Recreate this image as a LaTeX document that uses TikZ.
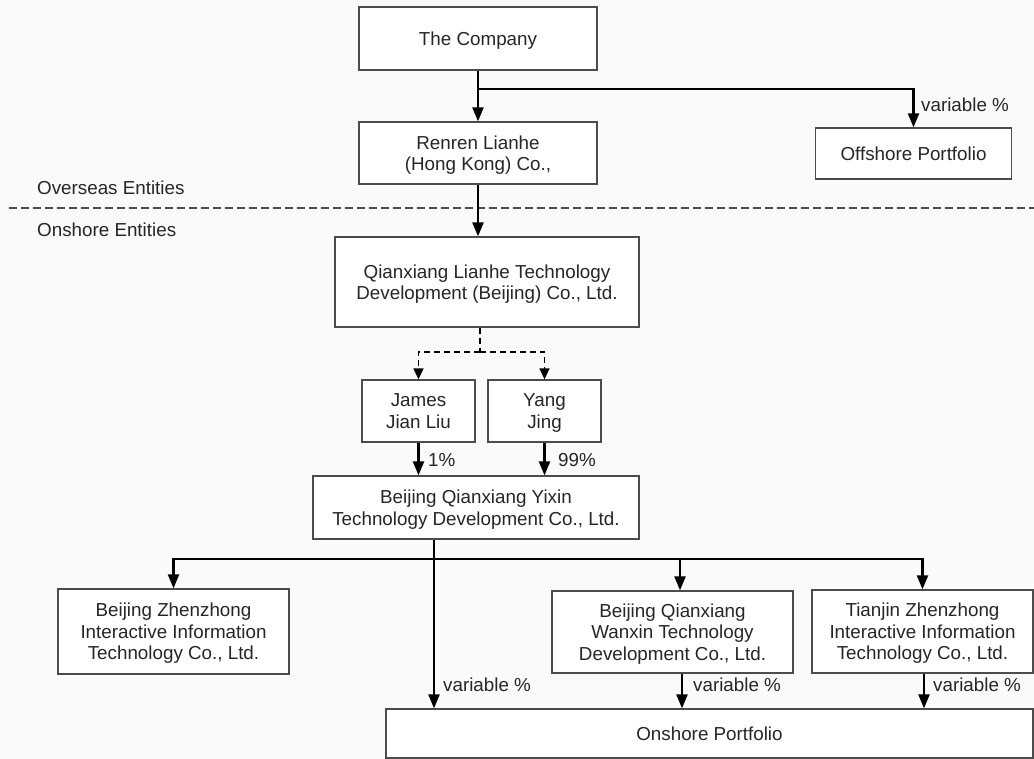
\documentclass[tikz,border=0pt]{standalone}
\usepackage{fontspec}
\setmainfont{Liberation Sans}
\usetikzlibrary{arrows.meta,positioning}

\begin{document}
\begin{tikzpicture}[x=1pt,y=-1pt,
  every node/.style={font=\fontsize{18.8}{21.6}\selectfont,text=black!85},
  box/.style={draw=black!70,line width=1.3pt,fill=white,align=center,inner sep=0pt,text depth=0pt},
  arr/.style={line width=2.2pt,-{Triangle[width=11pt,length=14pt]}},
  dsh/.style={line width=1.6pt,dash pattern=on 6pt off 4pt},
  lbl/.style={anchor=west,inner sep=0pt}]
\fill[black!2] (0,0) rectangle (1034,759);
\useasboundingbox (0,0) rectangle (1034,759);
\node[box,minimum width=238pt,minimum height=63pt] (comp) at (478,38.5) {The Company};
\node[box,minimum width=238pt,minimum height=62pt] (renren) at (478,153) {Renren Lianhe\\(Hong Kong) Co.,};
\node[box,minimum width=196pt,minimum height=51pt] (offsh) at (913.5,153.5) {Offshore Portfolio};
\node[box,minimum width=304pt,minimum height=90pt] (lianhe) at (487,282) {Qianxiang Lianhe Technology\\Development (Beijing) Co., Ltd.};
\node[box,minimum width=113pt,minimum height=62pt] (james) at (418.5,411) {James\\Jian Liu};
\node[box,minimum width=113pt,minimum height=62pt] (yang) at (544.5,411) {Yang\\Jing};
\node[box,minimum width=326pt,minimum height=63pt] (yixin) at (476,507.5) {Beijing Qianxiang Yixin\\Technology Development Co., Ltd.};
\node[box,minimum width=231pt,minimum height=85pt] (zhen) at (173.5,631.5) {Beijing Zhenzhong\\Interactive Information\\Technology Co., Ltd.};
\node[box,minimum width=241pt,minimum height=82pt] (wanxin) at (672.5,632) {Beijing Qianxiang\\Wanxin Technology\\Development Co., Ltd.};
\node[box,minimum width=221pt,minimum height=83pt] (tianjin) at (922.5,631.5) {Tianjin Zhenzhong\\Interactive Information\\Technology Co., Ltd.};
\node[box,minimum width=647pt,minimum height=49pt] (onshore) at (709.5,733.5) {Onshore Portfolio};
\node[lbl] (over) at (37,188) {Overseas Entities};
\node[lbl] (onsh) at (37,230) {Onshore Entities};
\coordinate (sep) at (9,208);
\coordinate (top) at (479,89);
\coordinate (share) at (480,352);
\coordinate (bus) at (434,559);
\coordinate (wx) at (680,559);
\draw[black!70,line width=1.3pt,dash pattern=on 8pt off 4pt] (sep) -- (1034,208);
\draw[arr] (comp) -- (renren);
\draw[arr] (top) -| (offsh.north);
\node[lbl] (v1) at (921,105) {variable \%};
\draw[arr] (renren.south) -- (renren.south |- lianhe.north);
\draw[dsh] (lianhe.south -| share) -- (share);
\draw[dsh,-{Triangle[width=10pt,length=11pt]}] (share) -| (james.north);
\draw[dsh,-{Triangle[width=10pt,length=11pt]}] (share) -| (yang.north);
\draw[arr] (james) -- (james |- yixin.north);
\node[lbl] (p1) at (428,460) {1\%};
\draw[arr] (yang) -- (yang |- yixin.north);
\node[lbl] (p99) at (558,460) {99\%};
\draw[arr] (yixin.south -| bus) -- (bus |- onshore.north);
\draw[arr] (bus) -| (zhen.north);
\draw[arr] (bus) -| (wx |- wanxin.north);
\draw[arr] (bus) -| (tianjin.north);
\node[lbl] (v2) at (443,685) {variable \%};
\draw[arr] ([xshift=9.5pt]wanxin.south) -- ([xshift=9.5pt]wanxin.south |- onshore.north);
\node[lbl] (v3) at (693,685) {variable \%};
\draw[arr] ([xshift=1.5pt]tianjin.south) -- ([xshift=1.5pt]tianjin.south |- onshore.north);
\node[lbl] (v4) at (933,685) {variable \%};
\end{tikzpicture}
\end{document}
